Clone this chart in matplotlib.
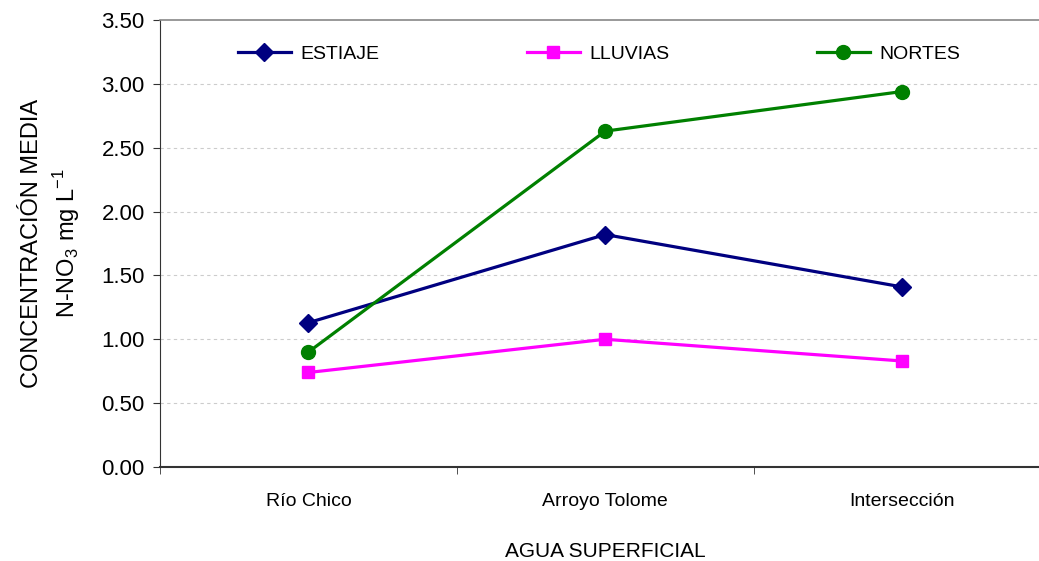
import matplotlib.pyplot as plt

plt.rcParams['font.family'] = ['Liberation Sans', 'DejaVu Sans']

# Mean N-NO3 concentration per site and season
sitios = ["Río Chico", "Arroyo Tolome", "Intersección"]
estiaje = [1.13, 1.82, 1.41]
lluvias = [0.74, 1.00, 0.83]
nortes = [0.90, 2.63, 2.94]

fig = plt.figure(figsize=(10.39, 5.61), dpi=100)
ax = fig.add_axes([0.154, 0.1676, 0.857, 0.7967])

x = range(len(sitios))
ax.plot(x, estiaje, '-D', color='#000080', lw=2.3, ms=9, label='ESTIAJE')
ax.plot(x, lluvias, '-s', color='#FF00FF', lw=2.3, ms=8, label='LLUVIAS')
ax.plot(x, nortes, '-o', color='#008000', lw=2.3, ms=10, label='NORTES')

ax.set_xlim(-0.5, 2.5)
ax.set_ylim(0, 3.5)
ax.set_yticks([0, 0.5, 1, 1.5, 2, 2.5, 3, 3.5])
ax.set_yticklabels([f"{v:.2f}" for v in ax.get_yticks()], fontsize=16)
ax.set_xticks(list(x))
ax.set_xticklabels(sitios, fontsize=14)
ax.tick_params(axis='x', which='major', length=0, pad=19)
ax.set_xticks([-0.5, 0.5, 1.5], minor=True)
ax.tick_params(axis='x', which='minor', length=5, direction='out', color='#333333')
ax.tick_params(axis='y', length=5, direction='out', color='#333333', pad=6)

for y in [0.5, 1, 1.5, 2, 2.5, 3]:
    ax.axhline(y, color='#cccccc', lw=0.8, ls=(0, (3, 3)), zorder=0)

ax.spines['right'].set_visible(False)
ax.spines['top'].set_color('#888888')
ax.spines['top'].set_linewidth(1.2)
ax.spines['left'].set_color('#333333')
ax.spines['bottom'].set_color('#333333')
ax.spines['bottom'].set_linewidth(1.5)

ax.set_xlabel("AGUA SUPERFICIAL", fontsize=15, labelpad=23)
ax.set_ylabel("CONCENTRACIÓN MEDIA\nN-NO$_\\mathregular{3}$ mg L$^\\mathregular{-1}$",
              fontsize=17, labelpad=14, linespacing=1.35)

ax.legend(loc='center left', bbox_to_anchor=(238 / 1039, 1 - 54 / 561),
          bbox_transform=fig.transFigure, ncol=3, frameon=False, fontsize=14,
          handlelength=2.7, handletextpad=0.5, columnspacing=7.6,
          borderpad=0, borderaxespad=0)

fig.savefig("out.png", dpi=100)
